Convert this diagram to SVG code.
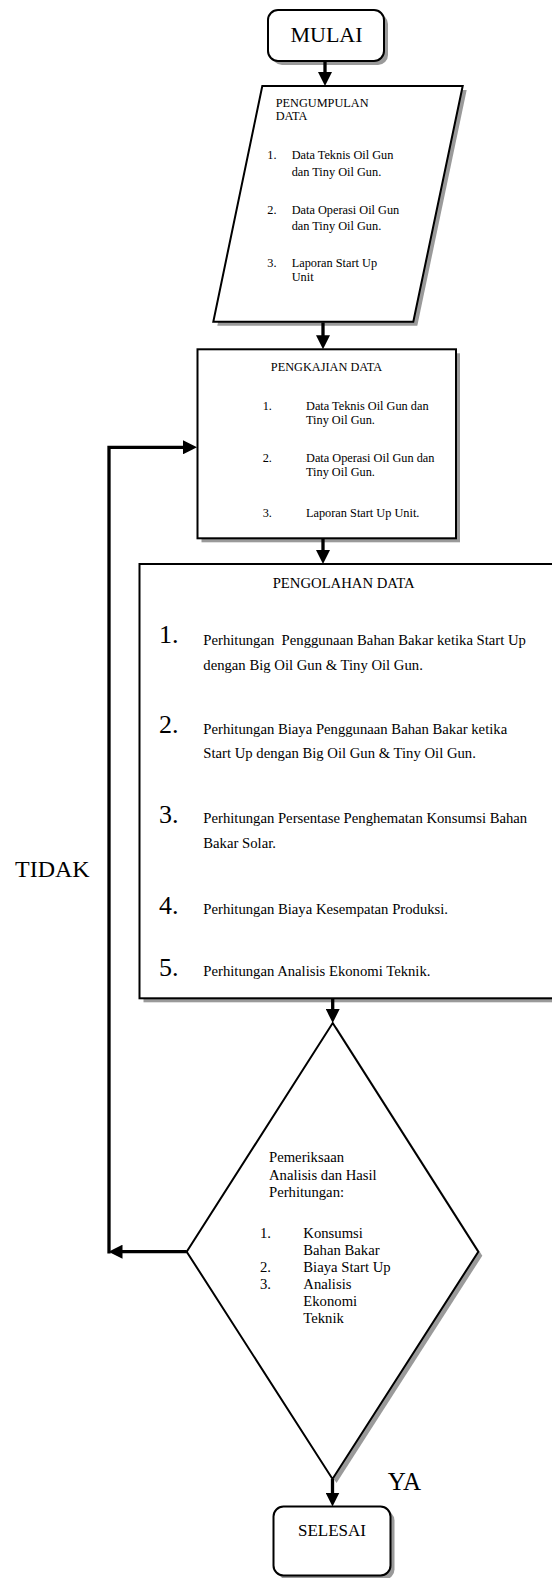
<svg xmlns="http://www.w3.org/2000/svg" width="552" height="1578" viewBox="0 0 552 1578">
<defs>
<style>
.shape{fill:#fff;stroke:#000;stroke-width:2}
.shadow{fill:#9a9a9a;stroke:none}
.conn{fill:none;stroke:#000;stroke-width:3.3}
text{font-family:"Liberation Serif","Times New Roman",serif;fill:#000}
.s12{font-size:12.3px}
.s14{font-size:14.7px}
.big{font-size:26px}
.pre{white-space:pre}
</style>
<marker id="ah" viewBox="0 0 14 14" markerWidth="14" markerHeight="14" refX="1" refY="7" orient="auto" markerUnits="userSpaceOnUse">
<path d="M0,0 L14,7 L0,14 z" fill="#000"/>
</marker>
</defs>
<rect width="552" height="1578" fill="#fff"/>

<g id="mulai">
<rect class="shadow" x="272" y="14" width="116" height="51" rx="10"/>
<rect class="shape" x="268" y="10" width="116" height="51" rx="10"/>
<text x="326.5" y="41.7" font-size="22" text-anchor="middle">MULAI</text>
</g>

<g id="pengumpulan">
<polygon class="shadow" points="266.3,90 466.7,90 417.3,325.7 217.3,325.7"/>
<polygon class="shape" points="262.3,86 462.7,86 413.3,321.7 213.3,321.7"/>
<g class="s12">
<text x="275.7" y="106.7">PENGUMPULAN</text>
<text x="275.7" y="120">DATA</text>
<text x="267.3" y="159.3">1.</text>
<text x="291.7" y="159.3">Data Teknis Oil Gun</text>
<text x="291.7" y="176.2">dan Tiny Oil Gun.</text>
<text x="267.3" y="214">2.</text>
<text x="291.7" y="214">Data Operasi Oil Gun</text>
<text x="291.7" y="229.5">dan Tiny Oil Gun.</text>
<text x="267.3" y="267">3.</text>
<text x="291.7" y="267">Laporan Start Up</text>
<text x="291.7" y="280.5">Unit</text>
</g>
</g>

<g id="pengkajian">
<rect class="shadow" x="201.5" y="353.3" width="258.5" height="189"/>
<rect class="shape" x="197.5" y="349.3" width="258.5" height="189"/>
<g class="s12">
<text x="326.5" y="370.7" text-anchor="middle">PENGKAJIAN DATA</text>
<text x="262.7" y="410">1.</text>
<text x="306" y="410">Data Teknis Oil Gun dan</text>
<text x="306" y="424">Tiny Oil Gun.</text>
<text x="262.7" y="461.7">2.</text>
<text x="306" y="461.7">Data Operasi Oil Gun dan</text>
<text x="306" y="475.7">Tiny Oil Gun.</text>
<text x="262.7" y="516.7">3.</text>
<text x="306" y="516.7">Laporan Start Up Unit.</text>
</g>
</g>

<g id="pengolahan">
<rect class="shadow" x="143.5" y="568" width="430" height="434.3"/>
<rect class="shape" x="139.5" y="564" width="430" height="434.3"/>
<text class="s14" x="272.7" y="587.7">PENGOLAHAN DATA</text>
<g class="big">
<text x="159" y="643">1.</text>
<text x="159" y="733">2.</text>
<text x="159" y="823">3.</text>
<text x="159" y="913.5">4.</text>
<text x="159" y="976">5.</text>
</g>
<g class="s14">
<text class="pre" x="203.3" y="645">Perhitungan  Penggunaan Bahan Bakar ketika Start Up</text>
<text x="203.3" y="670">dengan Big Oil Gun &amp; Tiny Oil Gun.</text>
<text x="203.3" y="734.3">Perhitungan Biaya Penggunaan Bahan Bakar ketika</text>
<text x="203.3" y="758.3">Start Up dengan Big Oil Gun &amp; Tiny Oil Gun.</text>
<text x="203.3" y="823.3">Perhitungan Persentase Penghematan Konsumsi Bahan</text>
<text x="203.3" y="848.3">Bakar Solar.</text>
<text x="203.3" y="913.5">Perhitungan Biaya Kesempatan Produksi.</text>
<text x="203.3" y="976">Perhitungan Analisis Ekonomi Teknik.</text>
</g>
</g>

<g id="pemeriksaan">
<polygon class="shadow" points="336.7,1027 482.3,1255.7 336.5,1483 190.7,1255.7"/>
<polygon class="shape" points="332.7,1023 478.3,1251.7 332.5,1479 186.7,1251.7"/>
<g class="s14">
<text x="269" y="1162.3">Pemeriksaan</text>
<text x="269" y="1180">Analisis dan Hasil</text>
<text x="269" y="1196.7">Perhitungan:</text>
<text x="260" y="1238.3">1.</text>
<text x="303.3" y="1238.3">Konsumsi</text>
<text x="303.3" y="1255.3">Bahan Bakar</text>
<text x="260" y="1272.3">2.</text>
<text x="303.3" y="1272.3">Biaya Start Up</text>
<text x="260" y="1289.3">3.</text>
<text x="303.3" y="1289.3">Analisis</text>
<text x="303.3" y="1306.3">Ekonomi</text>
<text x="303.3" y="1323.3">Teknik</text>
</g>
</g>

<g id="selesai">
<rect class="shadow" x="277.5" y="1510.5" width="117" height="69" rx="10"/>
<rect class="shape" x="273.5" y="1506.5" width="117" height="69" rx="10"/>
<text x="332" y="1536" font-size="17" text-anchor="middle">SELESAI</text>
</g>

<g id="connectors">
<path class="conn" d="M325,61 V73" marker-end="url(#ah)"/>
<path class="conn" d="M323,322.5 V336.3" marker-end="url(#ah)"/>
<path class="conn" d="M323,539 V551" marker-end="url(#ah)"/>
<path class="conn" d="M332.7,999 V1010" marker-end="url(#ah)"/>
<path class="conn" d="M332.5,1479 V1493.5" marker-end="url(#ah)"/>
<path class="conn" d="M186.7,1251.7 H121.5" marker-end="url(#ah)"/>
<path class="conn" d="M109,1253.4 V447.3 H184" marker-end="url(#ah)"/>
</g>

<g id="labels">
<text x="15" y="876.7" font-size="24">TIDAK</text>
<text x="387.7" y="1490" font-size="25">YA</text>
</g>
</svg>
